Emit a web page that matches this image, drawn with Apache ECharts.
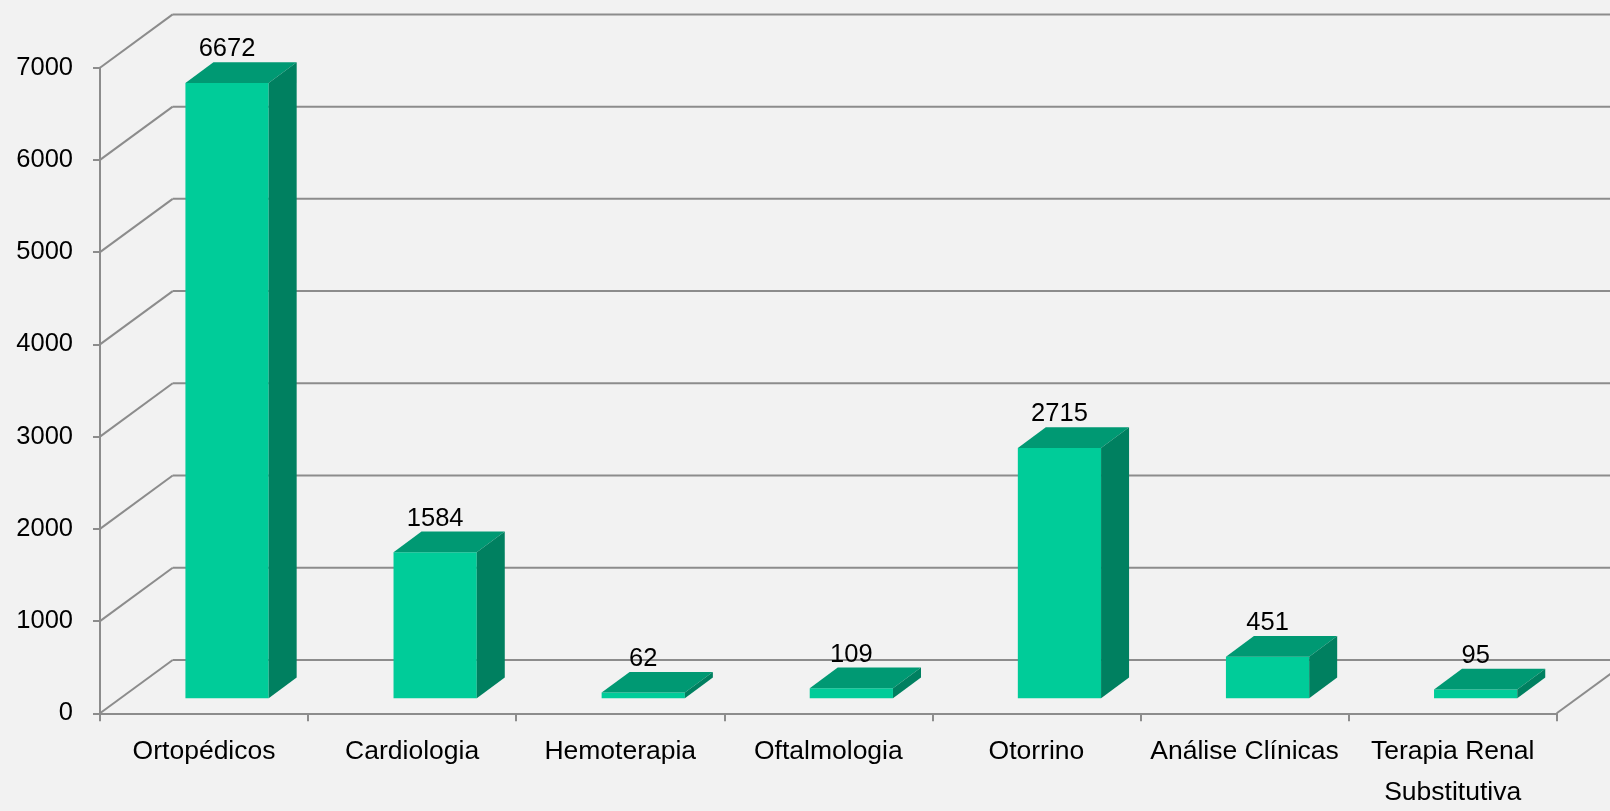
<!DOCTYPE html>
<html>
<head>
<meta charset="utf-8">
<script src="https://cdn.jsdelivr.net/npm/echarts@6/dist/echarts.min.js"></script>
<style>
  html, body { margin: 0; padding: 0; background: #f2f2f2; }
  #chart { width: 1610px; height: 811px; }
</style>
</head>
<body>
<div id="chart"></div>
<script>
const categories = ['Ortopédicos', 'Cardiologia', 'Hemoterapia', 'Oftalmologia', 'Otorrino', 'Análise Clínicas', 'Terapia Renal\nSubstitutiva']
const values = [6672, 1584, 62, 109, 2715, 451, 95]
const yTicks = [0, 1000, 2000, 3000, 4000, 5000, 6000, 7000]

// fake 3d depth, in px
const WALL_DX = 72.7
const WALL_DY = 53.3
const BAR_DX = 23
const BAR_DY = 15
const DEPTH_DX = 28
const DEPTH_DY = 20.7

const gridColor = '#8c8c8c'
const font = '"Liberation Sans", Arial, sans-serif'

var myChart = echarts.init(document.getElementById('chart'))

function renderWall(params, api) {
  const cs = params.coordSys
  const p = api.coord([0, api.value(1)])
  const y = p[1]
  const style = { stroke: gridColor, lineWidth: 2 }
  const children = [
    { type: 'line', shape: { x1: cs.x, y1: y, x2: cs.x + WALL_DX, y2: y - WALL_DY }, style: style },
    { type: 'line', shape: { x1: cs.x + WALL_DX, y1: y - WALL_DY, x2: cs.x + cs.width + WALL_DX, y2: y - WALL_DY }, style: style }
  ]
  if (api.value(1) == 0) {
    children.push({ type: 'line', shape: { x1: cs.x + cs.width, y1: y, x2: cs.x + cs.width + WALL_DX, y2: y - WALL_DY }, style: style })
  }
  return { type: 'group', children: children }
}

function renderBar(params, api) {
  const i = api.value(0)
  const v = api.value(1)
  const base = api.coord([i, 0])
  const top = api.coord([i, v])
  const w = api.size([1, 0])[0] * 0.4
  const x0 = base[0] + BAR_DX - w / 2
  const x1 = x0 + w
  const yb = base[1] - BAR_DY
  const yt = top[1] - BAR_DY
  return {
    type: 'group',
    children: [
      { type: 'rect', shape: { x: x0, y: yt, width: w, height: yb - yt }, style: { fill: '#00cc99' } },
      { type: 'polygon', shape: { points: [[x0, yt], [x1, yt], [x1 + DEPTH_DX, yt - DEPTH_DY], [x0 + DEPTH_DX, yt - DEPTH_DY]] }, style: { fill: '#009973' } },
      { type: 'polygon', shape: { points: [[x1, yt], [x1 + DEPTH_DX, yt - DEPTH_DY], [x1 + DEPTH_DX, yb - DEPTH_DY], [x1, yb]] }, style: { fill: '#008060' } },
      {
        type: 'text',
        x: (x0 + x1) / 2,
        y: yt - DEPTH_DY,
        style: { text: String(v), fill: '#000', fontSize: 25.5, fontFamily: font, align: 'center', verticalAlign: 'bottom' }
      }
    ]
  }
}

// category labels split in two rows, each row on its own x axis
const labelStyle = { interval: 0, color: '#000', fontSize: 26.5, fontFamily: font, verticalAlign: 'top' }

const option = {
  backgroundColor: '#f2f2f2',
  animation: false,
  grid: { left: 100, right: 53.3, top: 67.7, bottom: 97.7, outerBoundsMode: 'none' },
  xAxis: [
    {
      type: 'category',
      data: categories,
      axisLine: { lineStyle: { color: gridColor, width: 2 } },
      axisTick: { show: true, length: 8, lineStyle: { color: gridColor, width: 2 } },
      axisLabel: Object.assign({ margin: 25, formatter: (v) => v.split('\n')[0] }, labelStyle),
      splitLine: { show: false }
    },
    {
      type: 'category',
      data: categories,
      position: 'bottom',
      axisLine: { show: false },
      axisTick: { show: false },
      axisLabel: Object.assign({ margin: 66, formatter: (v) => v.split('\n')[1] || '' }, labelStyle),
      splitLine: { show: false }
    }
  ],
  yAxis: {
    type: 'value',
    min: 0,
    max: 7000,
    interval: 1000,
    axisLine: { show: true, lineStyle: { color: gridColor, width: 2 } },
    axisTick: { show: true, length: 7, lineStyle: { color: gridColor, width: 2 } },
    axisLabel: { margin: 27, color: '#000', fontSize: 25.5, fontFamily: font, formatter: (v) => String(v) },
    splitLine: { show: false }
  },
  series: [
    {
      type: 'custom',
      renderItem: renderWall,
      clip: false,
      silent: true,
      data: yTicks.map(v => [0, v]),
      z: 1
    },
    {
      type: 'custom',
      renderItem: renderBar,
      clip: false,
      data: values.map((v, i) => [i, v]),
      z: 2
    }
  ]
}

myChart.setOption(option)
</script>
</body>
</html>
